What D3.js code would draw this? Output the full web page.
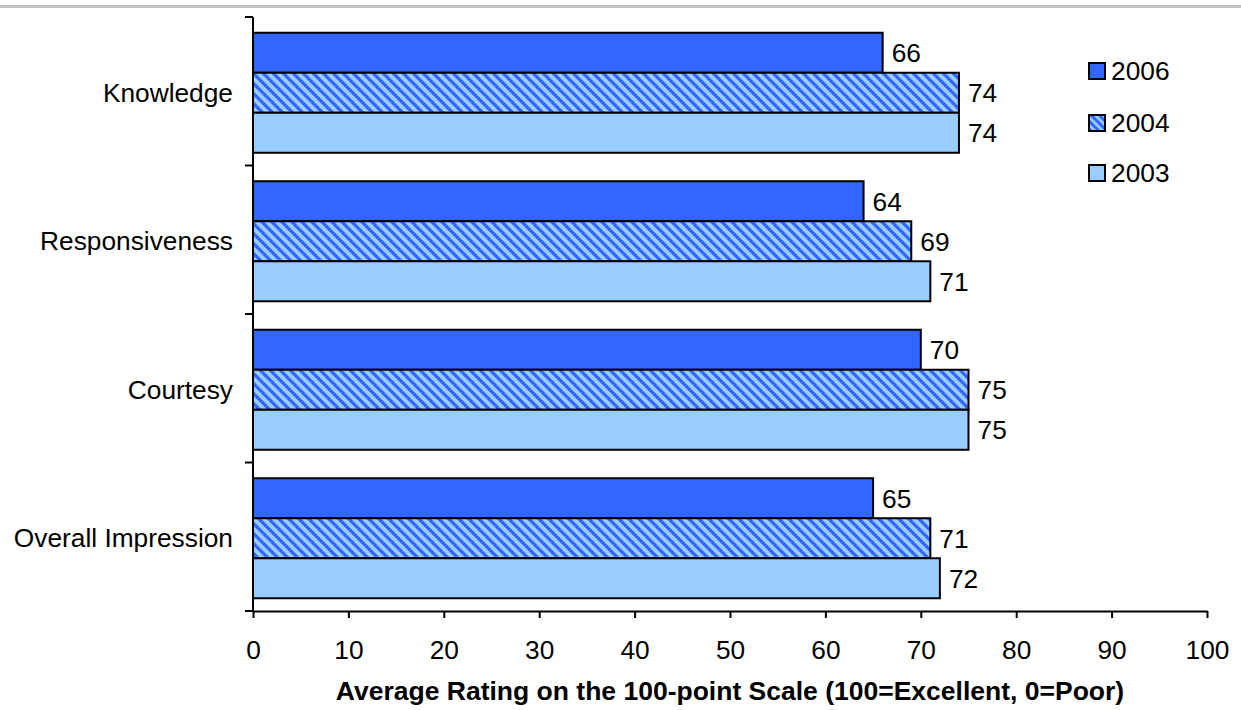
<!DOCTYPE html>
<html><head><meta charset="utf-8">
<script src="https://cdn.jsdelivr.net/npm/d3@7"></script>
<style>body{margin:0;background:#fff;} text{font-family:"Liberation Sans",Arial,sans-serif;}</style>
</head><body>
<svg id="c" width="1241" height="710"></svg>
<script>
const categories = ["Knowledge","Responsiveness","Courtesy","Overall Impression"];
const seriesNames = ["2006","2004","2003"];
const values2006 = [66,64,70,65];
const values2004 = [74,69,75,71];
const values2003 = [74,71,75,72];
const xTicks = [0,10,20,30,40,50,60,70,80,90,100];
const axisTitle = "Average Rating on the 100-point Scale (100=Excellent, 0=Poor)";

const FS = 26.3;
const series = [values2006, values2004, values2003];
const svg = d3.select("#c");
const defs = svg.append("defs");
const pat = defs.append("pattern").attr("id","hatch").attr("patternUnits","userSpaceOnUse")
  .attr("width",10).attr("height",10);
pat.append("rect").attr("width",10).attr("height",10).attr("fill","#99CCFF");
pat.append("path").attr("d","M-5,-5L15,15M-5,5L5,15M5,-5L15,5").attr("stroke","#3366FF").attr("stroke-width",3.2);
const pat2 = defs.append("pattern").attr("id","hatchS").attr("patternUnits","userSpaceOnUse")
  .attr("width",8).attr("height",8);
pat2.append("rect").attr("width",8).attr("height",8).attr("fill","#99CCFF");
pat2.append("path").attr("d","M-4,-4L12,12M-4,4L4,12M4,-4L12,4").attr("stroke","#3366FF").attr("stroke-width",3);
const fills = ["#3366FF","url(#hatch)","#99CCFF"];
const legendFills = ["#3366FF","url(#hatchS)","#99CCFF"];

// top rule
svg.append("rect").attr("x",0).attr("y",5).attr("width",1241).attr("height",3).attr("fill","#c0c0c0");

const x = d3.scaleLinear().domain([0,100]).range([253,1207]);
const y = d3.scaleBand().domain(categories).range([17,611]);
const yi = d3.scaleBand().domain(seriesNames).range([0,y.bandwidth()]).paddingInner(0).paddingOuter(0.356);

const g = svg.append("g");
categories.forEach((c,ci)=>{
  series.forEach((s,si)=>{
    const y0 = y(c)+yi(seriesNames[si])+1.5;
    g.append("rect").attr("x",x(0)).attr("y",y0).attr("width",x(s[ci])-x(0)).attr("height",yi.bandwidth())
      .attr("fill",fills[si]).attr("stroke","#000").attr("stroke-width",2);
    g.append("text").attr("x",x(s[ci])+9).attr("y",y0+yi.bandwidth()/2).attr("dy","0.36em")
      .attr("font-size",FS).attr("fill","#000").text(s[ci]);
  });
});

// y axis
svg.append("line").attr("x1",253).attr("x2",253).attr("y1",17).attr("y2",611).attr("stroke","#000").attr("stroke-width",2);
[...categories.map(c=>y(c)), 611].forEach(t=>{
  svg.append("line").attr("x1",245).attr("x2",253).attr("y1",t).attr("y2",t).attr("stroke","#000").attr("stroke-width",2);
});
categories.forEach(c=>{
  svg.append("text").attr("x",233).attr("y",y(c)+y.bandwidth()/2+1).attr("dy","0.36em").attr("text-anchor","end")
    .attr("font-size",FS).text(c);
});

// x axis
const xa = svg.append("g").attr("transform","translate(0,611)")
  .call(d3.axisBottom(x).tickValues(xTicks).tickSize(7).tickPadding(22).tickSizeOuter(0));
xa.select(".domain").attr("stroke","#000").attr("stroke-width",2);
xa.selectAll(".tick line").attr("stroke","#000").attr("stroke-width",2);
xa.selectAll(".tick text").attr("font-size",FS).attr("fill","#000").attr("font-family","Liberation Sans, Arial, sans-serif");

svg.append("text").attr("x",730).attr("y",700).attr("text-anchor","middle").attr("font-size",26.5)
  .attr("font-weight","bold").text(axisTitle);

// legend
const lg = svg.append("g");
seriesNames.forEach((n,i)=>{
  const ly = [71,123,173][i];
  lg.append("rect").attr("x",1089).attr("y",ly-8).attr("width",16).attr("height",16)
    .attr("fill",legendFills[i]).attr("stroke","#000").attr("stroke-width",2);
  lg.append("text").attr("x",1111).attr("y",ly).attr("dy","0.36em").attr("font-size",FS).text(n);
});
</script>
</body></html>
